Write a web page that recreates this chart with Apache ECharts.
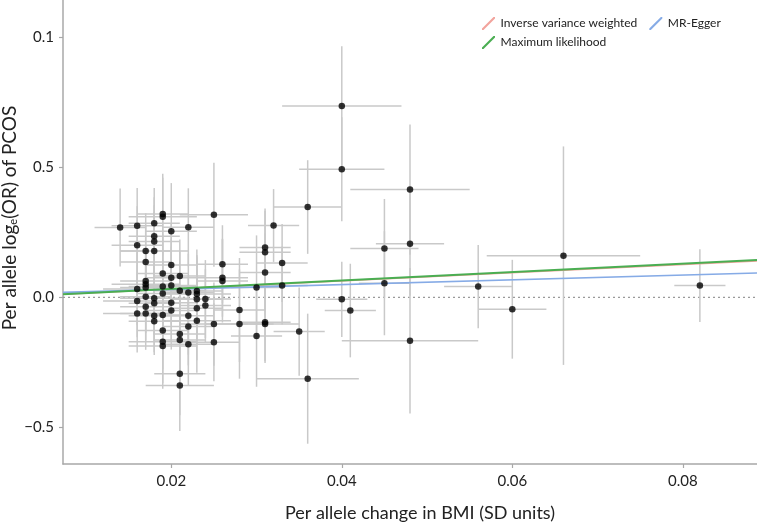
<!DOCTYPE html>
<html><head><meta charset="utf-8">
<script src="https://cdn.jsdelivr.net/npm/echarts@6/dist/echarts.min.js"></script>
<style>html,body{margin:0;padding:0;background:#fff}#c{width:757px;height:523px}</style>
</head><body><div id="c"></div>
<script>
// SNP-exposure effects (per allele change in BMI, SD units)
const exposureBeta = [0.014,0.016,0.019,0.019,0.018,0.022,0.025,0.020,0.018,0.018,0.016,0.017,0.018,0.017,0.020,0.026,0.019,0.020,0.021,0.017,0.017,0.017,0.026,0.026,0.019,0.020,0.016,0.021,0.022,0.023,0.023,0.030,0.019,0.017,0.018,0.016,0.018,0.020,0.023,0.024,0.024,0.023,0.017,0.020,0.028,0.016,0.017,0.018,0.019,0.022,0.018,0.023,0.022,0.025,0.028,0.019,0.021,0.030,0.021,0.019,0.019,0.022,0.025,0.021,0.021,0.040,0.040,0.036,0.032,0.031,0.031,0.033,0.031,0.048,0.048,0.045,0.033,0.031,0.031,0.035,0.036,0.040,0.041,0.045,0.048,0.056,0.060,0.066,0.082];
// SNP-outcome effects (per allele log OR of PCOS)
const outcomeBeta = [0.268,0.275,0.320,0.310,0.285,0.269,0.317,0.254,0.235,0.214,0.200,0.178,0.178,0.136,0.124,0.127,0.091,0.075,0.082,0.063,0.050,0.038,0.075,0.063,0.041,0.045,0.032,0.025,0.018,0.024,0.013,0.038,0.015,0.002,-0.004,-0.014,-0.023,-0.021,-0.008,-0.007,-0.032,-0.042,-0.036,-0.051,-0.049,-0.062,-0.062,-0.071,-0.068,-0.071,-0.092,-0.090,-0.112,-0.103,-0.103,-0.128,-0.141,-0.149,-0.164,-0.171,-0.187,-0.181,-0.173,-0.294,-0.339,0.735,0.492,0.347,0.276,0.191,0.173,0.132,0.095,0.414,0.206,0.188,0.045,-0.096,-0.103,-0.132,-0.313,-0.008,-0.051,0.054,-0.167,0.041,-0.046,0.160,0.045];
// standard errors
const exposureSE = [0.003,0.003,0.003,0.004,0.003,0.003,0.004,0.003,0.003,0.003,0.003,0.003,0.004,0.003,0.003,0.003,0.003,0.003,0.003,0.003,0.004,0.003,0.003,0.003,0.004,0.003,0.004,0.003,0.003,0.003,0.004,0.003,0.003,0.003,0.004,0.004,0.003,0.003,0.003,0.003,0.003,0.003,0.003,0.003,0.003,0.004,0.003,0.003,0.003,0.003,0.003,0.004,0.003,0.004,0.004,0.003,0.003,0.003,0.003,0.004,0.004,0.003,0.003,0.003,0.004,0.007,0.005,0.004,0.003,0.003,0.003,0.003,0.003,0.007,0.004,0.004,0.003,0.003,0.004,0.003,0.006,0.003,0.003,0.003,0.008,0.004,0.004,0.009,0.003];
const outcomeSE = [0.15,0.145,0.155,0.15,0.135,0.15,0.2,0.185,0.15,0.14,0.15,0.145,0.15,0.14,0.16,0.15,0.15,0.15,0.14,0.13,0.13,0.13,0.15,0.16,0.14,0.15,0.14,0.15,0.15,0.16,0.15,0.2,0.15,0.14,0.14,0.14,0.15,0.15,0.16,0.15,0.14,0.2,0.13,0.15,0.2,0.15,0.14,0.14,0.15,0.15,0.13,0.2,0.15,0.16,0.21,0.15,0.15,0.195,0.16,0.16,0.165,0.16,0.15,0.16,0.175,0.23,0.20,0.18,0.14,0.15,0.16,0.15,0.15,0.25,0.2,0.19,0.15,0.15,0.15,0.17,0.25,0.145,0.18,0.2,0.28,0.16,0.19,0.42,0.14];

const methodNames = ['Inverse variance weighted','MR-Egger','Maximum likelihood'];
const methodSlopes = [1.58, 0.91, 1.62];
const methodIntercepts = [0, 0.0124, 0];
const methodColors = ['#f2a39c','#86abe6','#4aae52'];

const xTicks = [0.02,0.04,0.06,0.08];
const xTickLabels = ['0.02','0.04','0.06','0.08'];
const yTicks = [-0.5,0,0.5,1.0];
const yTickLabels = ['\u22120.5','0.0','0.5','0.1'];

const X_MIN = 0.0073, X_MAX = 0.0887, Y_MIN = -0.641, Y_MAX = 1.143;
const AX = '#a8a8a8';
const FONT = 'Lato';

const chart = echarts.init(document.getElementById('c'), null, {renderer:'canvas'});
const lab = (vals, labs) => v => { const i = vals.findIndex(t => Math.abs(t - v) < 1e-9); return i >= 0 ? labs[i] : ''; };

const lineSeries = methodNames.map((n, i) => ({
  name: n, type: 'line', symbol: 'none', silent: true,
  data: [[X_MIN, methodIntercepts[i] + methodSlopes[i]*X_MIN],[X_MAX, methodIntercepts[i] + methodSlopes[i]*X_MAX]],
  lineStyle: {color: methodColors[i], width: i === 2 ? 2 : 1.6},
  itemStyle: {color: methodColors[i]},
  z: i === 2 ? 6 : 5
}));

const icon = 'path://M0,14 L1.6,14 L14,1.6 L14,0 L12.4,0 L0,12.4 Z';
const legendBase = {icon, itemWidth: 14, itemHeight: 13, itemGap: 12, orient: 'horizontal',
  textStyle: {fontFamily: FONT, fontSize: 12, color: '#222'}, selectedMode: false};

chart.setOption({
  animation: false,
  backgroundColor: '#fff',
  grid: {left: 63, right: 0, top: 0, bottom: 59, containLabel: false, outerBoundsMode: 'none'},
  legend: [
    Object.assign({}, legendBase, {data: [methodNames[0], methodNames[1]], left: 477, top: 12}),
    Object.assign({}, legendBase, {data: [methodNames[2]], left: 477, top: 31})
  ],
  xAxis: {
    type: 'value', min: X_MIN, max: X_MAX,
    axisLine: {show: true, onZero: false, lineStyle: {color: AX, width: 1.5}},
    axisTick: {show: true, length: 4, customValues: xTicks, lineStyle: {color: AX, width: 1.2}},
    axisLabel: {customValues: xTicks, formatter: lab(xTicks, xTickLabels), fontFamily: FONT, fontSize: 15, color: '#222', margin: 10},
    splitLine: {show: false},
    name: 'Per allele change in BMI (SD units)', nameLocation: 'middle', nameGap: 40, nameMoveOverlap: false,
    nameTextStyle: {fontFamily: FONT, fontSize: 18, color: '#222', padding: [0,0,0,20]}
  },
  yAxis: {
    type: 'value', min: Y_MIN, max: Y_MAX,
    axisLine: {show: true, onZero: false, lineStyle: {color: AX, width: 1.5}},
    axisTick: {show: true, length: 4, customValues: yTicks, lineStyle: {color: AX, width: 1.2}},
    axisLabel: {customValues: yTicks, formatter: lab(yTicks, yTickLabels), fontFamily: FONT, fontSize: 15, color: '#222', margin: 9},
    splitLine: {show: false},
    name: 'Per allele log{sub|e}(OR) of PCOS', nameLocation: 'middle', nameGap: 44, nameMoveOverlap: false,
    nameTextStyle: {fontFamily: FONT, fontSize: 19, color: '#222', padding: [0,0,0,28],
      rich: {sub: {fontFamily: FONT, fontSize: 11, color: '#222', verticalAlign: 'bottom', lineHeight: 15}}}
  },
  series: [
    {
      type: 'line', name: 'zero', symbol: 'none', silent: true,
      data: [[X_MIN, 0],[X_MAX, 0]],
      lineStyle: {color: '#9a9a9a', width: 1.3, type: [2, 3]}, z: 2
    },
    {
      type: 'custom', name: 'errors', silent: true, clip: true, z: 3,
      data: exposureBeta.map((x, i) => [x, outcomeBeta[i], exposureSE[i], outcomeSE[i]]),
      encode: {x: 0, y: 1},
      renderItem: function (params, api) {
        const x = api.value(0), y = api.value(1), sx = api.value(2), sy = api.value(3);
        const h1 = api.coord([x - sx, y]), h2 = api.coord([x + sx, y]);
        const v1 = api.coord([x, y - sy]), v2 = api.coord([x, y + sy]);
        const style = {stroke: '#c9c9c9', lineWidth: 1.5, fill: null};
        return {type: 'group', children: [
          {type: 'line', shape: {x1: h1[0], y1: h1[1], x2: h2[0], y2: h2[1]}, style: style},
          {type: 'line', shape: {x1: v1[0], y1: v1[1], x2: v2[0], y2: v2[1]}, style: style}
        ]};
      }
    },
    lineSeries[0], lineSeries[1], lineSeries[2],
    {
      type: 'scatter', name: 'SNPs', silent: true, z: 10,
      data: exposureBeta.map((x, i) => [x, outcomeBeta[i]]),
      symbolSize: 6.5, itemStyle: {color: '#000'}
    }
  ]
});
</script></body></html>
